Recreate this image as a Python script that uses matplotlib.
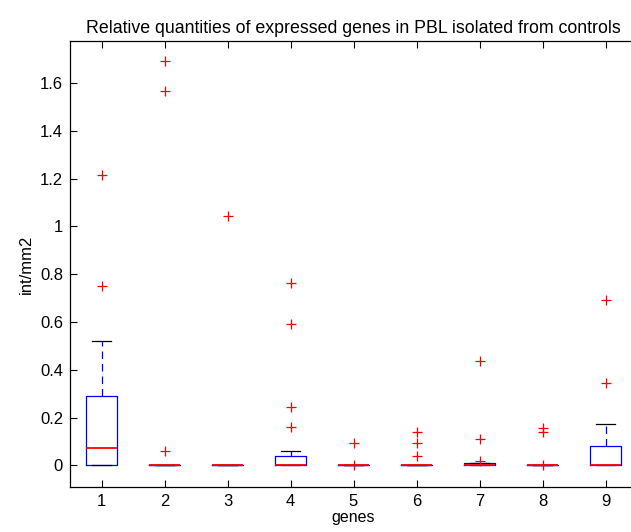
import matplotlib
matplotlib.use("Agg")
import matplotlib.pyplot as plt

plt.rcParams['font.family'] = ['Liberation Sans', 'DejaVu Sans']

genes = [1, 2, 3, 4, 5, 6, 7, 8, 9]
q1 = [0, 0, 0, 0, 0, 0, 0, 0, 0]
med = [0.075, 0, 0, 0, 0, 0, 0.004, 0, 0]
q3 = [0.29, 0, 0, 0.04, 0, 0, 0.009, 0, 0.08]
whislo = [0, 0, 0, 0, 0, 0, 0, 0, 0]
whishi = [0.52, 0, 0, 0.06, 0, 0, 0.009, 0, 0.175]
outliers = [
    [0.75, 1.215],
    [0.06, 1.565, 1.69],
    [1.045],
    [0.16, 0.245, 0.59, 0.765],
    [0.003, 0.095],
    [0.04, 0.095, 0.14],
    [0.018, 0.11, 0.435],
    [0.003, 0.138, 0.155],
    [0.345, 0.69],
]

stats = []
for i in range(len(genes)):
    stats.append({"med": med[i], "q1": q1[i], "q3": q3[i],
                  "whislo": whislo[i], "whishi": whishi[i],
                  "fliers": outliers[i], "label": str(genes[i])})

fig = plt.figure(figsize=(6.31, 5.32), dpi=100)
ax = fig.add_axes([70 / 631, 45 / 532, 567 / 631, 446 / 532])

ax.bxp(stats, positions=genes, widths=0.5,
       boxprops=dict(color="blue", linewidth=0.9),
       medianprops=dict(color="red", linewidth=1.3, zorder=3),
       whiskerprops=dict(color="blue", linewidth=0.9, linestyle=(0, (6, 4))),
       capprops=dict(color="black", linewidth=0.9),
       flierprops=dict(marker="+", markeredgecolor="red", markersize=7,
                       markeredgewidth=0.9, linestyle="none", zorder=4),
       capwidths=0.3)

ax.set_xlim(0.5, 9.5)
ax.set_ylim(-0.09, 1.775)
ax.set_xticks(genes)
ax.set_xticklabels([str(g) for g in genes])
ax.set_yticks([0, 0.2, 0.4, 0.6, 0.8, 1, 1.2, 1.4, 1.6])
ax.set_yticklabels(["0", "0.2", "0.4", "0.6", "0.8", "1", "1.2", "1.4", "1.6"])
ax.tick_params(direction="in", length=5, top=True, right=False, labelsize=12,
               pad=5)
ax.spines["right"].set_visible(False)
for s in ax.spines.values():
    s.set_linewidth(0.9)

ax.set_title("Relative quantities of expressed genes in PBL isolated from controls",
             fontsize=12.8, pad=6)
ax.set_xlabel("genes", fontsize=11.5, labelpad=1)
ax.set_ylabel("int/mm2", fontsize=12, labelpad=4)

fig.savefig("out.png", dpi=100)
